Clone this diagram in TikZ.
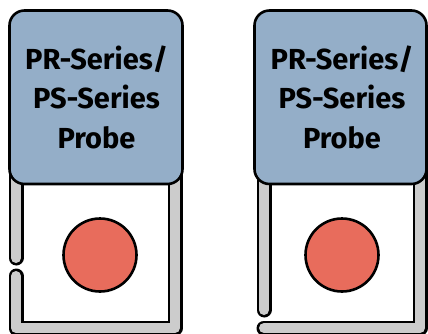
\documentclass[tikz,border=0pt]{standalone}
\usepackage{fontspec}
\setmainfont{Fira Sans}
\definecolor{boxblue}{RGB}{148,174,200}
\definecolor{wallgray}{RGB}{204,204,204}
\definecolor{dotred}{RGB}{232,108,92}
\tikzset{
  wallout/.style={line width=15pt, draw=black, line cap=round, line join=round},
  wallin/.style={line width=10pt, draw=wallgray, line cap=round, line join=round},
  probebox/.style={draw=black, line width=2.6pt, fill=boxblue, rounded corners=15pt},
  probetext/.style={align=center, font=\fontsize{29}{39.5}\selectfont\bfseries},
  dot/.style={circle, draw=black, line width=2.6pt, fill=dotred, minimum size=73pt, inner sep=0pt}
}
\begin{document}
\begin{tikzpicture}[x=1pt,y=-1pt]
\useasboundingbox (0,0) rectangle (428,333);
% left unit walls
\coordinate (lA1) at (16,150);
\coordinate (lA2) at (16,258);
\coordinate (lB1) at (16,276);
\coordinate (lB2) at (16,328);
\coordinate (lB3) at (175,328);
\coordinate (lB4) at (175,150);
\draw[wallout] (lA1) -- (lA2);
\draw[wallout] (lB1) -- (lB2) -- (lB3) -- (lB4);
\draw[wallin] (lA1) -- (lA2);
\draw[wallin] (lB1) -- (lB2) -- (lB3) -- (lB4);
% right unit walls
\coordinate (rA1) at (264,150);
\coordinate (rA2) at (264,310);
\coordinate (rB1) at (264,328);
\coordinate (rB2) at (420,328);
\coordinate (rB3) at (420,150);
\draw[wallout] (rA1) -- (rA2);
\draw[wallout] (rB1) -- (rB2) -- (rB3);
\draw[wallin] (rA1) -- (rA2);
\draw[wallin] (rB1) -- (rB2) -- (rB3);
% boxes
\draw[probebox] (9.5,10.5) rectangle (182.5,184);
\draw[probebox] (254.5,10.5) rectangle (426.5,184);
\node[probetext] (lt) at (96.5,97) {PR-Series/\\PS-Series\\Probe};
\node[probetext] (rt) at (342,97) {PR-Series/\\PS-Series\\Probe};
% dots
\node[dot] (ld) at (100,255) {};
\node[dot] (rd) at (342,255) {};
\end{tikzpicture}
\end{document}
